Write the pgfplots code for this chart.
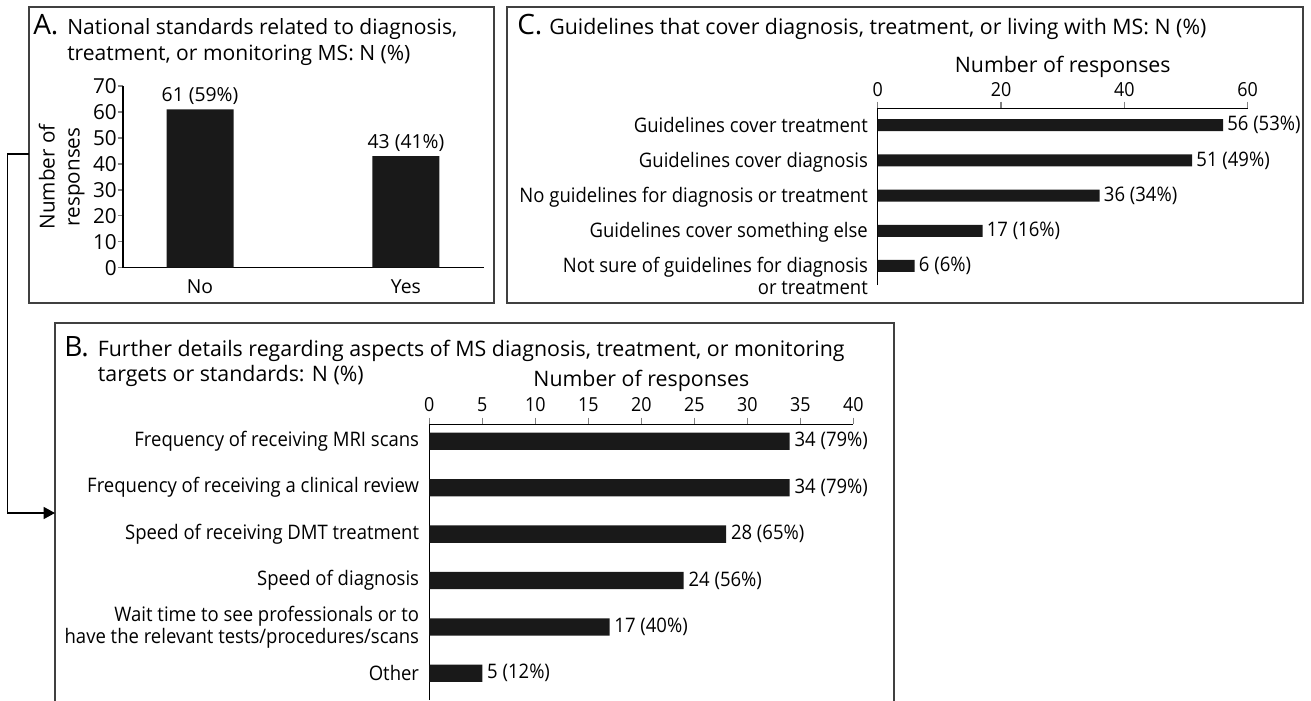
\documentclass[border=0pt]{standalone}
\usepackage{fontspec}
\setmainfont{Open Sans}
\newfontfamily\cond[FakeStretch=0.925]{Open Sans}
\usepackage{pgfplots}
\pgfplotsset{compat=1.18}
\usetikzlibrary{arrows.meta}
\newcommand{\lab}{\cond\fontsize{15}{16.5}\selectfont}
\newcommand{\labA}{\fontsize{14.5}{16.5}\selectfont}
\newcommand{\titA}{\fontsize{15.8}{19.5}\selectfont}
\newcommand{\tit}{\fontsize{16}{19.5}\selectfont}
\newcommand{\letterfont}{\fontsize{21}{24}\selectfont}
\newcommand{\xlab}{\fontsize{16}{19}\selectfont}
\newcommand{\ylab}{\fontsize{15.5}{18.75}\selectfont}
\newcommand{\tck}{\cond\fontsize{14.5}{16}\selectfont}
\newcommand{\tckA}{\fontsize{15.5}{16}\selectfont}
\pgfplotsset{every axis/.append style={/pgf/number format/assume math mode=true}}
\begin{document}
\begin{tikzpicture}
\begin{scope}[x=0.75pt,y=-0.75pt]
\useasboundingbox (0,0) rectangle (1311,700);
\draw[line width=1.3pt,black!75] (29,7) rectangle (494,303);
\draw[line width=1.3pt,black!75] (507,7) rectangle (1303,303);
\draw[line width=1.3pt,black!75] (55,710) -- (55,323) -- (894,323) -- (894,710);
\draw[line width=1pt,-{Triangle[length=8.5pt,width=9pt]}] (29,154) -- (7.5,154) -- (7.5,513) -- (55,513);
\node[anchor=base west,inner sep=0,font=\letterfont] at (33,34.5) {A.};
\node[anchor=base west,inner sep=0,font=\titA] at (67,34.5) {National standards related to diagnosis,};
\node[anchor=base west,inner sep=0,font=\titA] at (67,60.5) {treatment, or monitoring MS: N (\%)};
\node[anchor=base west,inner sep=0,font=\letterfont] at (517,34) {C.};
\node[anchor=base west,inner sep=0,font=\tit] at (549,34) {Guidelines that cover diagnosis, treatment, or living with MS: N (\%)};
\node[anchor=base west,inner sep=0,font=\letterfont] at (64,356.7) {B.};
\node[anchor=base west,inner sep=0,font=\tit] at (97.6,356.7) {Further details regarding aspects of MS diagnosis, treatment, or monitoring};
\node[anchor=base west,inner sep=0,font=\tit] at (97.6,381) {targets or standards: N (\%)};
\end{scope}

% Panel A
\begin{axis}[
 at={(92.25pt,-200.78pt)}, anchor=south west, scale only axis,
 width=270.75pt, height=136.28pt,
 ybar, bar width=50.25pt,
 xmin=-0.374, xmax=1.379, ymin=0, ymax=70,
 axis x line*=bottom, axis y line*=left,
 axis line style={line width=1pt,-},
 xtick={0,1}, xticklabels={No,Yes}, xtick style={draw=none},
 ytick={0,10,...,70}, tick align=outside, major tick length=3.75pt,
 ytick style={line width=1pt},
 tick label style={font=\tckA},
 xticklabel style={font=\labA, anchor=base, inner sep=0pt, yshift=-15.45pt},
 yticklabel style={anchor=east, inner sep=0pt, xshift=-0.75pt},
 ylabel={Number of\\responses},
 ylabel style={font=\ylab, align=center, at={(axis description cs:-0.17,0.5)}, anchor=center},
 nodes near coords, point meta=explicit symbolic,
 nodes near coords style={font=\labA, anchor=base, inner sep=0pt, yshift=5.7pt},
]
\addplot[fill=black!90, draw=none] coordinates {(0,61) [61 (59\%)] (1,43) [43 (41\%)]};
\end{axis}

% Panel C
\begin{axis}[
 at={(658.28pt,-213.75pt)}, anchor=south west, scale only axis,
 width=277.5pt, height=132.53pt,
 xbar, bar width=9pt,
 xmin=0, xmax=60, ymin=-0.54, ymax=4.48,
 axis x line*=top, axis y line*=left,
 axis line style={line width=1pt,-},
 xtick={0,20,40,60}, tick align=outside, major tick length=5pt,
 xtick style={line width=1pt},
 ytick={0,...,4}, ytick style={draw=none},
 yticklabels={{\begin{tabular}[t]{@{}r@{}}Not sure of guidelines for diagnosis\\or treatment\end{tabular}}, Guidelines cover something else, No guidelines for diagnosis or treatment, Guidelines cover diagnosis, Guidelines cover treatment},
 tick label style={font=\tck},
 yticklabel style={font=\lab, anchor=base east, inner sep=0pt, xshift=-2.2pt, yshift=-5.2pt},
 xticklabel style={anchor=base, inner sep=0pt, yshift=4.2pt},
 xlabel={Number of responses},
 xlabel style={font=\xlab, at={(axis description cs:0.5,1.2015)}, anchor=base},
 nodes near coords, point meta=explicit symbolic,
 nodes near coords style={font=\lab, anchor=west, inner sep=0pt, xshift=3pt},
]
\addplot[fill=black!90, draw=none] coordinates {(56,4) [56 (53\%)] (51,3) [51 (49\%)] (36,2) [36 (34\%)] (17,1) [17 (16\%)] (6,0) [6 (6\%)]};
\end{axis}

% Panel B
\begin{axis}[
 at={(321.98pt,-525pt)}, anchor=south west, scale only axis,
 width=318pt, height=206.78pt,
 xbar, bar width=13pt,
 xmin=0, xmax=40, ymin=-0.575, ymax=5.366,
 axis x line*=top, axis y line*=left,
 axis line style={line width=1pt,-},
 xtick={0,5,...,40}, tick align=outside, major tick length=5pt,
 xtick style={line width=1pt},
 ytick={0,...,5}, ytick style={draw=none},
 yticklabels={Other, {Wait time to see professionals or to\\have the relevant tests/procedures/scans}, Speed of diagnosis, Speed of receiving DMT treatment, Frequency of receiving a clinical review, Frequency of receiving MRI scans},
 tick label style={font=\tck},
 yticklabel style={font=\lab, align=right, anchor=east, inner sep=0pt, xshift=-2.5pt},
 xticklabel style={anchor=base, inner sep=0pt, yshift=4.6pt},
 xlabel={Number of responses},
 xlabel style={font=\xlab, at={(axis description cs:0.5,1.1364)}, anchor=base},
 nodes near coords, point meta=explicit symbolic,
 nodes near coords style={font=\lab, anchor=west, inner sep=0pt, xshift=3.5pt},
]
\addplot[fill=black!90, draw=none] coordinates {(34,5) [34 (79\%)] (34,4) [34 (79\%)] (28,3) [28 (65\%)] (24,2) [24 (56\%)] (17,1) [17 (40\%)] (5,0) [5 (12\%)]};
\end{axis}
\end{tikzpicture}
\end{document}
